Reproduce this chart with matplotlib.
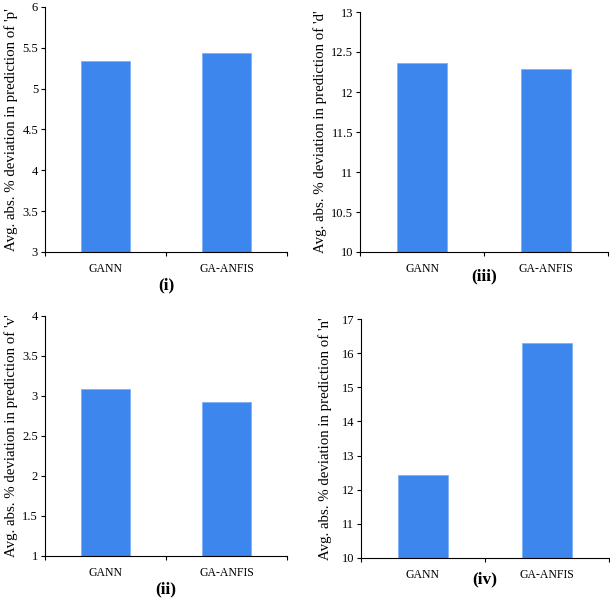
import matplotlib
matplotlib.use("Agg")
import matplotlib.pyplot as plt

plt.rcParams['font.family'] = ['Liberation Serif', 'DejaVu Serif']

# Data
methods = ['GANN', 'GA-ANFIS']
dev_p = [5.34, 5.44]
dev_v = [3.09, 2.93]
dev_d = [12.36, 12.29]
dev_n = [12.42, 16.30]

bar_color = '#3d86ee'
W, H = 610, 598

# (values, param, ylim, yticks, tick labels, caption, box in pixels l, r, top, bottom, label right x, caption y)
panels = [
    (dev_p, 'p', (3, 6), [3, 3.5, 4, 4.5, 5, 5.5, 6], ['3', '3.5', '4', '4.5', '5', '5.5', '6'], '(i)', (45, 287, 7, 252), 18, 285),
    (dev_d, 'd', (10, 13), [10, 10.5, 11, 11.5, 12, 12.5, 13], ['10', '10.5', '11', '11.5', '12', '12.5', '13'], '(iii)', (360, 608, 12, 252), 327, 276),
    (dev_v, 'v', (1, 4), [1, 1.5, 2, 2.5, 3, 3.5, 4], ['1', '1.5', '2', '2.5', '3', '3.5', '4'], '(ii)', (45, 287, 316, 556), 18, 589),
    (dev_n, 'n', (10, 17), list(range(10, 18)), [str(t) for t in range(10, 18)], '(iv)', (361, 609, 319, 558), 332, 579),
]

fig = plt.figure(figsize=(W / 100, H / 100), dpi=100)

for vals, par, ylim, yticks, ylabels, cap, box, labx, capy in panels:
    l, r, t, b = box
    ax = fig.add_axes([l / W, 1 - b / H, (r - l) / W, (b - t) / H])
    x = range(len(methods))
    ax.bar(x, vals, width=0.4, color=bar_color, edgecolor='#7fb0f5', linewidth=0.6)
    ax.set_xlim(-0.5, 1.5)
    ax.set_ylim(*ylim)
    ax.set_yticks(yticks)
    ax.set_yticklabels(ylabels, fontsize=9)
    ax.set_xticks([-0.5, 0.5, 1.5])
    ax.set_xticklabels([])
    ax.set_xticks(list(x), minor=True)
    ax.set_xticklabels(methods, minor=True, fontsize=8.5)
    ax.tick_params(axis='x', which='minor', length=0, pad=8)
    ax.tick_params(axis='x', which='major', length=3, direction='out')
    ax.tick_params(axis='y', length=3, direction='out', pad=2)
    for s in ['top', 'right']:
        ax.spines[s].set_visible(False)
    for s in ['left', 'bottom']:
        ax.spines[s].set_linewidth(0.8)
    ax.set_ylabel("Avg. abs. % deviation in prediction of '{}'".format(par), fontsize=10.7)
    ax.yaxis.set_label_coords((labx - l) / (r - l), 0.5)
    fig.text(((l + r) / 2) / W, 1 - capy / H, cap, ha='center', va='center',
             fontsize=12.5, fontweight='bold')

fig.savefig('out.png', dpi=100)
